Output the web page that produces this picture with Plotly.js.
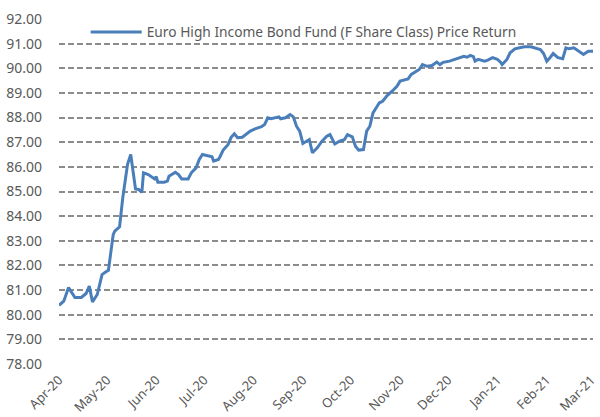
<!DOCTYPE html>
<html>
<head>
<meta charset="utf-8">
<script src="https://cdn.plot.ly/plotly-3.0.1.min.js"></script>
<style>html,body{margin:0;padding:0;background:#fff;}#chart{width:600px;height:417px;}</style>
</head>
<body>
<div id="chart"></div>
<script>
const seriesName = "Euro High Income Bond Fund (F Share Class) Price Return";
const dates = [
"2020-04-01","2020-04-04","2020-04-07","2020-04-11","2020-04-15","2020-04-18","2020-04-20","2020-04-22","2020-04-25","2020-04-28",
"2020-04-30","2020-05-02","2020-05-05","2020-05-06","2020-05-09","2020-05-11","2020-05-14","2020-05-16","2020-05-19","2020-05-21",
"2020-05-23","2020-05-24","2020-05-27","2020-05-31","2020-06-01","2020-06-02","2020-06-06","2020-06-08","2020-06-09","2020-06-13",
"2020-06-15","2020-06-17","2020-06-21","2020-06-23","2020-06-26","2020-06-28","2020-06-30","2020-07-04","2020-07-06","2020-07-07",
"2020-07-10","2020-07-11","2020-07-13","2020-07-16","2020-07-18","2020-07-20","2020-07-22","2020-07-25","2020-07-27","2020-07-30",
"2020-08-02","2020-08-06","2020-08-08","2020-08-10","2020-08-12","2020-08-15","2020-08-17","2020-08-18","2020-08-21","2020-08-24",
"2020-08-26","2020-08-28","2020-08-30","2020-09-01","2020-09-03","2020-09-05","2020-09-07","2020-09-10","2020-09-13","2020-09-16",
"2020-09-18","2020-09-21","2020-09-24","2020-09-27","2020-09-29","2020-10-02","2020-10-04","2020-10-06","2020-10-09","2020-10-11",
"2020-10-13","2020-10-15","2020-10-17","2020-10-19","2020-10-21","2020-10-24","2020-10-27","2020-10-30","2020-11-01","2020-11-03",
"2020-11-06","2020-11-08","2020-11-11","2020-11-13","2020-11-15","2020-11-18","2020-11-21","2020-11-24","2020-11-26","2020-11-28",
"2020-12-02","2020-12-05","2020-12-08","2020-12-11","2020-12-13","2020-12-15","2020-12-17","2020-12-18","2020-12-20","2020-12-24",
"2020-12-26","2020-12-29","2021-01-01","2021-01-03","2021-01-04","2021-01-07","2021-01-09","2021-01-12","2021-01-15","2021-01-18",
"2021-01-22","2021-01-25","2021-01-28","2021-01-30","2021-02-01","2021-02-03","2021-02-05","2021-02-08","2021-02-11","2021-02-13",
"2021-02-15","2021-02-18","2021-02-21","2021-02-24","2021-02-27","2021-03-02"
];
const prices = [
80.38,80.55,81.10,80.70,80.70,80.86,81.16,80.52,80.82,81.63,
81.72,81.80,83.25,83.39,83.57,84.74,86.10,86.50,85.10,85.08,
84.97,85.76,85.69,85.51,85.60,85.38,85.38,85.42,85.62,85.78,
85.69,85.51,85.51,85.76,85.96,86.30,86.50,86.43,86.41,86.23,
86.30,86.41,86.68,86.90,87.20,87.34,87.18,87.20,87.31,87.45,
87.54,87.63,87.72,87.99,87.95,87.99,88.03,87.95,87.99,88.12,
88.03,87.65,87.45,86.95,87.04,87.11,86.57,86.77,87.04,87.24,
87.31,86.93,87.04,87.10,87.31,87.22,86.84,86.68,86.70,87.45,
87.65,88.19,88.40,88.60,88.66,88.90,89.07,89.27,89.48,89.52,
89.57,89.75,89.88,89.95,90.15,90.08,90.11,90.25,90.15,90.24,
90.29,90.36,90.43,90.49,90.45,90.52,90.47,90.29,90.36,90.29,
90.33,90.43,90.36,90.25,90.15,90.36,90.63,90.79,90.83,90.87,
90.87,90.83,90.76,90.60,90.29,90.43,90.60,90.43,90.39,90.83,
90.79,90.83,90.69,90.56,90.69,90.69
];
const xRange = ["2020-04-01","2021-03-02"];
const yRange = [78, 92];

const font = "'Noto Sans', 'Open Sans', sans-serif";
Plotly.newPlot("chart", [{
  type: "scatter", mode: "lines", name: seriesName,
  x: dates, y: prices,
  line: {color: "#4a7ebb", width: 3}
}], {
  width: 600, height: 417,
  margin: {l: 59, r: 7, t: 19, b: 53},
  paper_bgcolor: "#ffffff", plot_bgcolor: "#ffffff",
  showlegend: true,
  legend: {x: 0.05, y: 0.962, xanchor: "left", yanchor: "middle", bgcolor: "rgba(0,0,0,0)",
           itemwidth: 51,
           font: {family: font, size: 13.75, color: "#595959"}},
  xaxis: {type: "date", range: xRange, tick0: "2020-04-01", dtick: "M1", tickformat: "%b-%y",
          tickangle: -45, showgrid: false, zeroline: false, showline: false, ticks: "",
          ticklabelstandoff: 5, ticklabeloverflow: "allow",
          tickfont: {family: font, size: 13, color: "#595959"}},
  yaxis: {range: yRange, dtick: 1, tickformat: ".2f", showgrid: true, gridcolor: "#8c8c8c",
          gridwidth: 2, griddash: "6px,3px", zeroline: false, showline: false, ticks: "",
          ticklabelstandoff: 16,
          tickfont: {family: font, size: 14, color: "#595959"}}
}, {displayModeBar: false, staticPlot: true});
</script>
</body>
</html>
